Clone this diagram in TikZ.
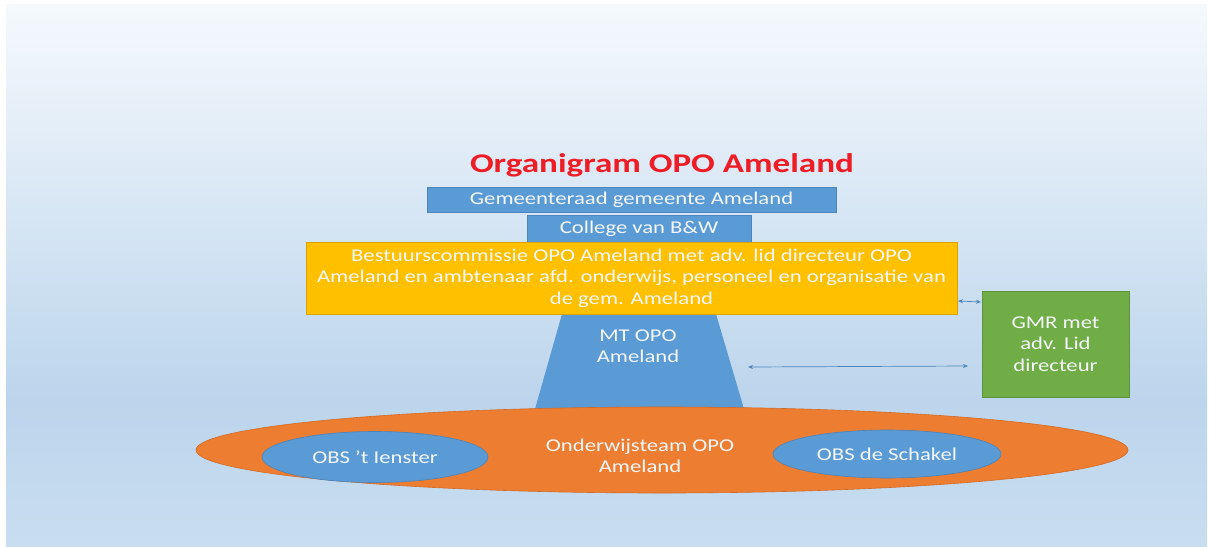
\documentclass[tikz,border=0pt]{standalone}
\usepackage{fontspec}
\setmainfont{Carlito}[FakeStretch=1.26]
\newfontfamily\titlefont{Carlito}[FakeStretch=1.3]
\usetikzlibrary{shapes.geometric,arrows.meta}
\definecolor{bgtop}{HTML}{F5F9FD}
\definecolor{bgmid}{HTML}{BCD5EC}
\definecolor{bgbot}{HTML}{C9DDF0}
\definecolor{bluefill}{HTML}{5B9BD5}
\definecolor{blueline}{HTML}{4A85BD}
\definecolor{yelfill}{HTML}{FFC000}
\definecolor{yelline}{HTML}{D9A400}
\definecolor{grnfill}{HTML}{70AD47}
\definecolor{grnline}{HTML}{5E9439}
\definecolor{orgfill}{HTML}{ED7D31}
\definecolor{orgline}{HTML}{D46A24}
\definecolor{titlered}{HTML}{EE1C25}
\definecolor{txtwhite}{HTML}{F4F7FA}
\begin{document}
\begin{tikzpicture}[x=1pt,y=-1pt,
  boxtext/.style={text=txtwhite,font=\fontsize{18}{21.5}\selectfont,align=center,inner sep=0pt},
  bluebox/.style={draw=blueline,fill=bluefill,line width=0.8pt,boxtext},
  yelbox/.style={draw=yelline,fill=yelfill,line width=0.8pt,boxtext},
  grnbox/.style={draw=grnline,fill=grnfill,line width=0.8pt,boxtext},
  orgell/.style={ellipse,draw=orgline,fill=orgfill,line width=0.6pt,inner sep=0pt},
  blueell/.style={ellipse,draw=blueline,fill=bluefill,line width=0.6pt,boxtext},
  link/.style={draw=bluefill!85!black,line width=0.7pt,{Stealth[length=5pt,width=4pt]}-{Stealth[length=5pt,width=4pt]}}
]
\useasboundingbox (0,0) rectangle (1209,546);
\fill[white] (0,0) rectangle (1209,546);
\shade[top color=bgtop,bottom color=bgmid] (6,4) rectangle (1207,400);
\shade[top color=bgmid,bottom color=bgbot] (6,399.5) rectangle (1207,546);

% title
\node[text=titlered,font=\titlefont\fontsize{27}{30}\selectfont\bfseries,inner sep=0pt] (title) at (662,165) {Organigram OPO Ameland};

% trapezoid MT
\coordinate (tl) at (562,314);
\coordinate (tr) at (716,314);
\coordinate (br) at (744,409);
\coordinate (bl) at (535,409);
\fill[bluefill] (tl) -- (tr) -- (br) -- (bl) -- cycle;
\node[boxtext] (mt) at (638,346) {MT OPO\\Ameland};

% boxes
\node[bluebox,minimum width=409pt,minimum height=25pt] (gem) at (631.5,199.5) {Gemeenteraad gemeente Ameland};
\node[bluebox,minimum width=224pt,minimum height=27pt] (col) at (639,228.5) {College van B\&W};
\node[yelbox,minimum width=651pt,minimum height=72pt] (best) at (631.5,278) {Bestuurscommissie OPO Ameland met adv. lid directeur OPO\\Ameland en ambtenaar afd. onderwijs, personeel en organisatie van\\de gem. Ameland};
\node[grnbox,minimum width=147pt,minimum height=106pt] (gmr) at (1055.5,344) {GMR met\\adv. Lid\\directeur};

% ellipses
\node[orgell,minimum width=932pt,minimum height=86pt] (team) at (662,450) {};
\node[boxtext] (teamtxt) at (640,456) {Onderwijsteam OPO\\Ameland};
\node[blueell,minimum width=226pt,minimum height=51pt] (ien) at (375,457) {OBS ’t Ienster};
\node[blueell,minimum width=228pt,minimum height=48pt] (sch) at (887,454) {OBS de Schakel};

% connectors
\coordinate (a1) at (748,367);
\coordinate (a2) at (968,366);
\draw[link] (a1) -- (a2);
\coordinate (b1) at (958,301);
\coordinate (b2) at (981,302);
\draw[link] (b1) -- (b2);
\end{tikzpicture}
\end{document}
